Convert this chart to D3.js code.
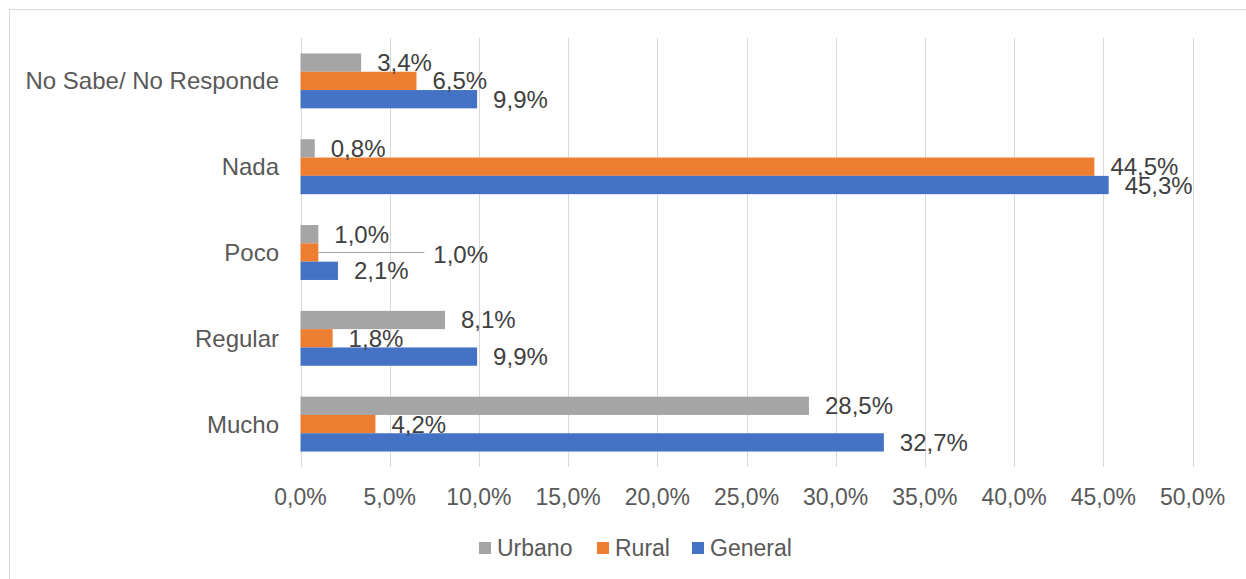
<!DOCTYPE html>
<html>
<head>
<meta charset="utf-8">
<script src="https://cdn.jsdelivr.net/npm/d3@7"></script>
<style>
  body { margin: 0; background: #fff; }
  svg { display: block; font-family: "Liberation Sans", Arial, sans-serif; }
</style>
</head>
<body>
<svg id="chart"></svg>
<script>
const WIDTH = 1246;
const HEIGHT = 579;

// categories, top to bottom as drawn
const categories = ["No Sabe/ No Responde", "Nada", "Poco", "Regular", "Mucho"];
const seriesNames = ["Urbano", "Rural", "General"];
const urbano = [3.4, 0.8, 1.0, 8.1, 28.5];
const rural = [6.5, 44.5, 1.0, 1.8, 4.2];
const general = [9.9, 45.3, 2.1, 9.9, 32.7];
const xTicks = [0, 5, 10, 15, 20, 25, 30, 35, 40, 45, 50];

const colors = { Urbano: "#A5A5A5", Rural: "#ED7D31", General: "#4472C4" };
const values = { Urbano: urbano, Rural: rural, General: general };

const fmt = v => d3.format(".1f")(v).replace(".", ",") + "%";

const svg = d3.select("#chart")
  .attr("width", WIDTH)
  .attr("height", HEIGHT);

// outer chart border (only top/left visible in frame)
svg.append("rect")
  .attr("x", 9.5).attr("y", 9.5)
  .attr("width", WIDTH + 20).attr("height", HEIGHT + 20)
  .attr("fill", "none")
  .attr("stroke", "#D9D9D9");

const x = d3.scaleLinear().domain([0, 50]).range([300.5, 1192.5]);
const y = d3.scaleBand().domain(categories).range([38, 467]).paddingInner(0.36).paddingOuter(0.18);
const ySub = d3.scaleBand().domain(seriesNames).range([0, y.bandwidth()]);

// gridlines
svg.append("g")
  .selectAll("line")
  .data(xTicks)
  .join("line")
  .attr("x1", d => Math.round(x(d)) + 0.5)
  .attr("x2", d => Math.round(x(d)) + 0.5)
  .attr("y1", 38)
  .attr("y2", 467)
  .attr("stroke", "#D9D9D9")
  .attr("stroke-width", 1);

// x tick labels
svg.append("g")
  .selectAll("text")
  .data(xTicks)
  .join("text")
  .attr("x", d => x(d))
  .attr("y", 497)
  .attr("text-anchor", "middle")
  .attr("dominant-baseline", "central")
  .attr("font-size", 23)
  .attr("fill", "#595959")
  .text(d => fmt(d));

// category labels
svg.append("g")
  .selectAll("text")
  .data(categories)
  .join("text")
  .attr("x", 279)
  .attr("y", d => y(d) + y.bandwidth() / 2)
  .attr("text-anchor", "end")
  .attr("dominant-baseline", "central")
  .attr("font-size", 24)
  .attr("fill", "#595959")
  .text(d => d);

const rows = seriesNames.flatMap(s => categories.map((c, i) => ({ s, c, v: values[s][i] })));

// bars
svg.append("g")
  .selectAll("rect")
  .data(rows)
  .join("rect")
  .attr("x", x(0))
  .attr("y", d => y(d.c) + ySub(d.s))
  .attr("width", d => x(d.v) - x(0))
  .attr("height", ySub.bandwidth())
  .attr("fill", d => colors[d.s]);

// the Rural/Poco label was dragged aside in the original, with a leader line
const moved = { s: "Rural", c: "Poco", dx: 115 };
const isMoved = d => d.s === moved.s && d.c === moved.c;

rows.filter(isMoved).forEach(d => {
  const cy = y(d.c) + ySub(d.s) + ySub.bandwidth() / 2;
  svg.append("line")
    .attr("x1", x(d.v))
    .attr("x2", x(d.v) + moved.dx - 9)
    .attr("y1", cy)
    .attr("y2", cy)
    .attr("stroke", "#A5A5A5")
    .attr("stroke-width", 1.2);
});

// value labels
svg.append("g")
  .selectAll("text")
  .data(rows)
  .join("text")
  .attr("x", d => x(d.v) + (isMoved(d) ? moved.dx : 16))
  .attr("y", d => y(d.c) + ySub(d.s) + ySub.bandwidth() / 2 + (isMoved(d) ? 2 : 0))
  .attr("dominant-baseline", "central")
  .attr("font-size", 24)
  .attr("fill", "#404040")
  .text(d => fmt(d.v));

// legend
const legendX = { Urbano: 479, Rural: 597, General: 692 };
const legend = svg.append("g")
  .selectAll("g")
  .data(seriesNames)
  .join("g")
  .attr("transform", d => `translate(${legendX[d]},548)`);
legend.append("rect")
  .attr("x", 0).attr("y", -6)
  .attr("width", 12).attr("height", 12)
  .attr("fill", d => colors[d]);
legend.append("text")
  .attr("x", 18)
  .attr("y", 0)
  .attr("dominant-baseline", "central")
  .attr("font-size", 23)
  .attr("fill", "#595959")
  .text(d => d);
</script>
</body>
</html>
